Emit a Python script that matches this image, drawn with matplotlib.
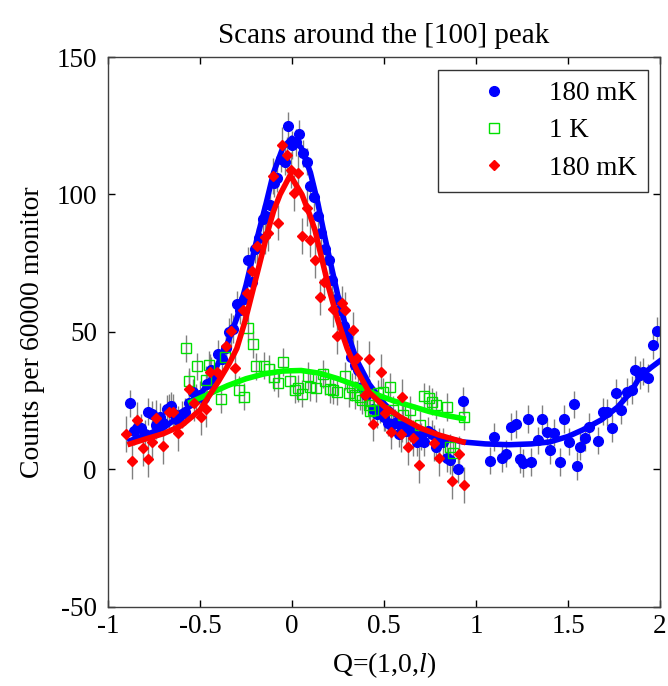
import numpy as np
import matplotlib
matplotlib.use("Agg")
import matplotlib.pyplot as plt

plt.rcParams['font.family'] = ['Liberation Serif', 'DejaVu Serif']
plt.rcParams['axes.unicode_minus'] = False
plt.rcParams['mathtext.fontset'] = 'custom'
plt.rcParams['mathtext.it'] = 'Liberation Serif:italic'
plt.rcParams['mathtext.rm'] = 'Liberation Serif'

# 180 mK scan (blue), counts per 60000 monitor
q_blue = [-0.88, -0.86, -0.84, -0.82, -0.80, -0.78, -0.76, -0.74, -0.72, -0.70,
          -0.68, -0.66, -0.64, -0.62, -0.60, -0.58, -0.56, -0.54, -0.52, -0.50,
          -0.48, -0.46, -0.44, -0.42, -0.40, -0.38, -0.36, -0.34, -0.32, -0.30,
          -0.28, -0.26, -0.24, -0.22, -0.20, -0.18, -0.16, -0.14, -0.12, -0.10,
          -0.08, -0.06, -0.04, -0.02, 0.00, 0.02, 0.04, 0.06, 0.08, 0.10,
          0.12, 0.14, 0.16, 0.18, 0.20, 0.22, 0.24, 0.26, 0.28, 0.30,
          0.32, 0.34, 0.36, 0.38, 0.40, 0.42, 0.44, 0.46, 0.48, 0.50,
          0.52, 0.54, 0.56, 0.58, 0.60, 0.62, 0.64, 0.66, 0.68, 0.70,
          0.72, 0.74, 0.76, 0.78, 0.80, 0.82, 0.84, 0.86, 0.90, 0.93,
          1.076, 1.10, 1.14, 1.165, 1.19, 1.215, 1.24, 1.258, 1.28, 1.30,
          1.335, 1.36, 1.385, 1.40, 1.424, 1.457, 1.478, 1.507, 1.53, 1.55,
          1.565, 1.59, 1.616, 1.665, 1.69, 1.71, 1.74, 1.76, 1.786, 1.82,
          1.846, 1.864, 1.89, 1.91, 1.933, 1.964, 1.985]
n_blue = [24, 14, 15, 15, 13, 21, 20, 16, 19, 17,
          22, 23, 20, 18, 20, 21, 24, 28, 26, 27,
          26, 31, 36, 33, 42, 40, 44, 50, 51, 60,
          58, 62, 76, 68, 80, 84, 91, 92, 96, 104,
          106, 113, 112, 125, 118, 119, 122, 115, 112, 103,
          99, 92, 86, 80, 76, 69, 62, 58, 52, 48,
          41, 38, 36, 30, 27, 28, 22, 20, 22, 19,
          17, 16, 17, 13, 15, 14, 15, 13, 10, 12,
          10, 14, 13, 8, 10, 10, 4, 3.5, 0, 25,
          3.2, 11.9, 4.2, 5.8, 15.6, 16.5, 3.8, 2.4, 18.4, 2.8,
          10.6, 18.3, 13.8, 7.1, 13.4, 2.8, 18.3, 10.1, 23.7, 1.3,
          8.3, 11.6, 15.6, 10.5, 21, 20.8, 15, 27.9, 21.6, 28.3,
          28.9, 36.2, 34.4, 35.6, 33.2, 45.3, 50.4]
fit_blue_q = [-0.88, -0.8, -0.7, -0.6, -0.5, -0.44, -0.35, -0.3, -0.25, -0.19,
              -0.14, -0.1, -0.05, 0.0, 0.05, 0.1, 0.14, 0.18, 0.22, 0.26,
              0.3, 0.35, 0.42, 0.5, 0.6, 0.7, 0.8, 0.93, 1.05, 1.18,
              1.3, 1.4, 1.5, 1.58, 1.68, 1.77, 1.84, 1.89, 1.95, 2.0]
fit_blue_n = [10.5, 12.5, 15, 20, 27, 33, 46, 55, 67, 84,
              97, 108, 117, 120.5, 117, 108, 97, 84, 72, 60,
              50, 40, 31, 24, 17.5, 14.4, 12, 10, 9.3, 9,
              9.3, 10, 12, 14.4, 18, 22.7, 28, 33.6, 37, 39.5]

# 1 K scan (green)
q_green = [-0.578, -0.558, -0.517, -0.47, -0.45, -0.385, -0.364, -0.286, -0.262, -0.237,
           -0.214, -0.195, -0.154, -0.125, -0.10, -0.077, -0.05, -0.011, 0.016, 0.034,
           0.053, 0.089, 0.098, 0.132, 0.17, 0.18, 0.207, 0.225, 0.245, 0.288,
           0.31, 0.324, 0.342, 0.37, 0.379, 0.42, 0.424, 0.44, 0.469, 0.496,
           0.533, 0.55, 0.605, 0.64, 0.696, 0.716, 0.745, 0.76, 0.785, 0.84,
           0.86, 0.877, 0.935]
n_green = [44, 32, 37.5, 32.7, 38, 25.5, 41, 29, 26.5, 51.3,
           45.5, 37.5, 37.8, 36.6, 33.5, 31.3, 39, 32, 29, 29.5,
           27.6, 34, 30, 29.5, 34.7, 32, 29.2, 28.9, 28.3, 34,
           27.7, 30, 27, 26.5, 25.3, 23.5, 21.3, 21.6, 27.7, 28.3,
           30.1, 21.6, 19.8, 21.6, 16.2, 26.6, 25.9, 24.7, 23.5, 22.8,
           8, 5.9, 19.2]
fit_green_q = [-0.55, -0.45, -0.35, -0.25, -0.15, -0.05, 0.05, 0.15, 0.25, 0.35,
               0.45, 0.55, 0.65, 0.75, 0.85, 0.93]
fit_green_n = [24.5, 27.5, 30.5, 33, 34.8, 35.8, 36, 35, 33, 30.5,
               27.5, 25, 23, 21, 19.5, 18.5]

# 180 mK scan (red)
q_red = [-0.90, -0.87, -0.84, -0.81, -0.78, -0.76, -0.74, -0.70, -0.67, -0.645,
         -0.62, -0.56, -0.53, -0.495, -0.47, -0.445, -0.405, -0.36, -0.33, -0.31,
         -0.265, -0.246, -0.22, -0.19, -0.147, -0.13, -0.105, -0.074, -0.056, -0.029,
         -0.005, 0.011, 0.034, 0.055, 0.083, 0.10, 0.125, 0.152, 0.175, 0.221,
         0.246, 0.27, 0.29, 0.333, 0.352, 0.397, 0.42, 0.44, 0.485, 0.505,
         0.54, 0.59, 0.596, 0.63, 0.66, 0.69, 0.77, 0.80, 0.868, 0.905,
         0.935]
n_red = [12.9, 3.1, 18, 7.7, 3.7, 10, 18.6, 8.5, 20.8, 21,
         13.4, 29.2, 24.3, 19.2, 21.9, 35.6, 35.6, 44.9, 50.5, 36.8,
         58, 64, 72, 81.3, 84.7, 86, 106.7, 89.8, 118, 114.4,
         109, 100.6, 107.7, 84.9, 95, 83.6, 76.2, 62.8, 68, 58.3,
         48.5, 60.4, 58, 50.7, 40.6, 27, 40.1, 16.7, 35.6, 20.4,
         13.8, 13, 26.5, 8.1, 11.3, 1.6, 9.5, 4.1, -4.1, 5.5,
         -5.6]
fit_red_q = [-0.88, -0.8, -0.7, -0.6, -0.5, -0.4, -0.34, -0.3, -0.255, -0.2,
             -0.13, -0.1, -0.065, -0.01, 0.054, 0.1, 0.125, 0.2, 0.25, 0.3,
             0.353, 0.42, 0.5, 0.59, 0.7, 0.8, 0.93]
fit_red_n = [9.3, 11, 13, 16, 21.6, 32, 38.7, 44, 54, 68.5,
             87, 94, 100, 107, 100, 92, 87, 66, 54, 44,
             36, 28, 23, 19, 15, 12.5, 10]

err_blue = 5.0
err_green = 5.0
err_red = 6.5

fig = plt.figure(figsize=(6.68, 6.86), dpi=100)
ax = fig.add_axes([0.1617, 0.1152, 0.8263, 0.8017])

ebar = dict(fmt='none', ecolor='#808080', elinewidth=1.0, capsize=0, zorder=1)
ax.errorbar(q_blue, n_blue, yerr=err_blue, **ebar)
ax.errorbar(q_green, n_green, yerr=err_green, **ebar)
ax.errorbar(q_red, n_red, yerr=err_red, **ebar)

ax.plot(q_blue, n_blue, 'o', color='#0000ff', ms=7, mec='#0000ff', ls='none',
        zorder=2, label='180 mK')
ax.plot(fit_blue_q, fit_blue_n, '-', color='#0000ff', lw=4, zorder=3)
ax.plot(q_green, n_green, 's', mfc='none', mec='#00e000', mew=1.0, ms=7, ls='none',
        zorder=4, label='1 K')
ax.plot(fit_green_q, fit_green_n, '-', color='#00ff00', lw=4, zorder=5)
ax.plot(q_red, n_red, 'D', color='#ff0000', ms=5.5, ls='none', zorder=6, label='180 mK')
ax.plot(fit_red_q, fit_red_n, '-', color='#ff0000', lw=4, zorder=7)

ax.set_xlim(-1, 2)
ax.set_ylim(-50, 150)
ax.set_xticks([-1, -0.5, 0, 0.5, 1, 1.5, 2])
ax.set_xticklabels(['-1', '-0.5', '0', '0.5', '1', '1.5', '2'])
ax.set_yticks([-50, 0, 50, 100, 150])
ax.tick_params(direction='in', top=True, right=True, length=5, width=1,
               labelsize=19.5, colors='black')
ax.tick_params(axis='y', pad=8)
ax.tick_params(axis='x', pad=5)
for s in ax.spines.values():
    s.set_linewidth(1.0)
    s.set_color('#404040')

ax.set_title('Scans around the [100] peak', fontsize=21, pad=10)
ax.set_xlabel(r'Q=(1,0,$\mathit{l}$)', fontsize=20, labelpad=8)
ax.set_ylabel('Counts per 60000 monitor', fontsize=20, labelpad=8)

leg = ax.legend(loc='upper right', fontsize=19.5, frameon=True, fancybox=False,
                edgecolor='black', borderpad=0.4, handletextpad=0.4,
                handlelength=3.3, labelspacing=0.46, borderaxespad=0,
                bbox_to_anchor=(0.978, 0.976))
leg.get_frame().set_linewidth(1.0)

fig.savefig('out.png', dpi=100)
